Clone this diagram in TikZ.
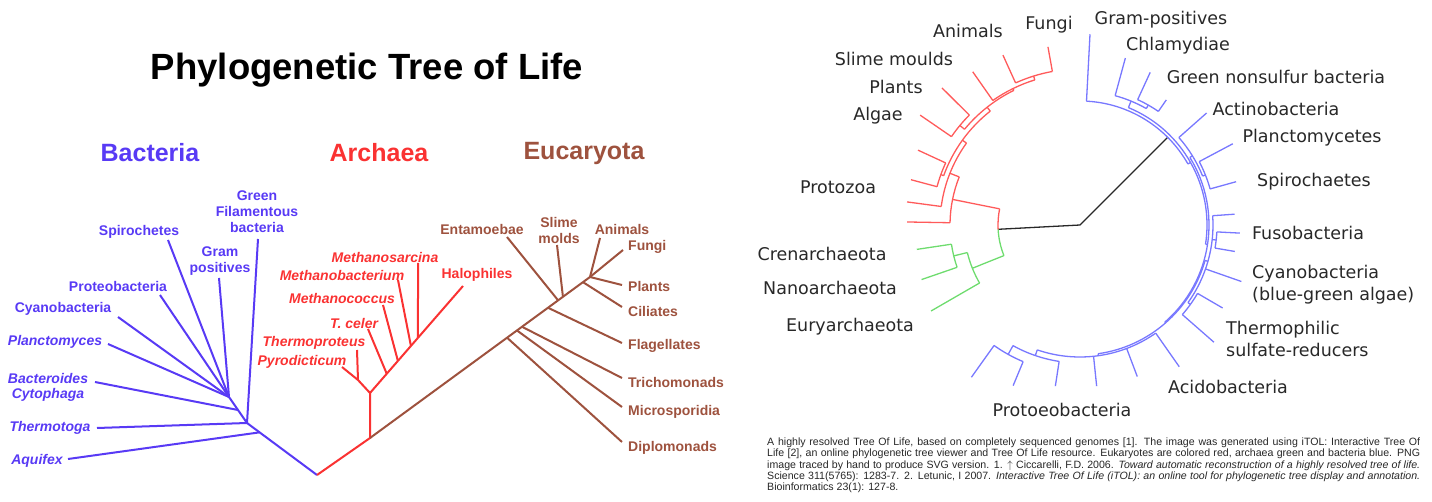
\documentclass[tikz,border=0pt]{standalone}
\usepackage{fontspec}
\setmainfont{Liberation Sans}
\newfontfamily\itolfont{DejaVu Sans}
\usetikzlibrary{calc}

\definecolor{bacblue}{RGB}{88,58,245}
\definecolor{archred}{RGB}{250,50,50}
\definecolor{eukbrown}{RGB}{158,82,62}
\definecolor{itolred}{RGB}{255,90,90}
\definecolor{itolgreen}{RGB}{110,220,110}
\definecolor{itolblue}{RGB}{120,120,255}
\definecolor{itolink}{RGB}{40,40,40}

\tikzset{
  lbl/.style={inner sep=0pt,align=center,font=\fontsize{14}{16}\selectfont\bfseries},
  ilbl/.style={lbl,font=\fontsize{14}{15}\selectfont\bfseries\itshape},
  head/.style={inner sep=0pt,font=\fontsize{25}{25}\selectfont\bfseries},
  branch/.style={line width=2pt},
  twig/.style={line width=1.3pt},
  tlbl/.style={inner sep=0pt,align=left,text=itolink,font=\itolfont\fontsize{17.5}{22}\selectfont},
}

\begin{document}
\begin{tikzpicture}[x=1pt,y=-1pt]
\useasboundingbox (0,0) rectangle (1432,502);

% ---- left: title and domains
\node[inner sep=0pt,font=\fontsize{36.5}{36.5}\selectfont\bfseries] (title) at (367,70) {Phylogenetic Tree of Life};
\node[head,text=bacblue]  (bact) at (150,153) {Bacteria};
\node[head,text=archred]  (arch) at (379,153) {Archaea};
\node[head,text=eukbrown] (euka) at (584,153) {Eucaryota};

% bacteria
\coordinate (root) at (317,475);
\coordinate (bac0) at (247,423);
\coordinate (bac1) at (229,397);
\coordinate (aqj) at ($(root)!0.82!(bac0)$);
\coordinate (bcj) at ($(bac0)!0.5!(bac1)$);
\coordinate (aquifex) at (68,459);
\coordinate (thermotoga) at (97,428);
\coordinate (bacteroides) at (95,382);
\coordinate (planctomyces) at (108,344);
\coordinate (cyanobacteria) at (118,317);
\coordinate (proteobacteria) at (160,295);
\coordinate (spirochetes) at (168,240);
\coordinate (grampos) at (219,278);
\coordinate (greenfil) at (258,239);

\draw[bacblue,branch] (root) -- (bac0) -- (bac1);
\draw[bacblue,branch] (aqj) -- (aquifex);
\draw[bacblue,branch] (bac0) -- (thermotoga);
\draw[bacblue,branch] (bac0) -- (greenfil);
\draw[bacblue,branch] (bcj) -- (bacteroides);
\draw[bacblue,branch] (bac1) -- (planctomyces);
\draw[bacblue,branch] (bac1) -- (cyanobacteria);
\draw[bacblue,branch] (bac1) -- (proteobacteria);
\draw[bacblue,branch] (bac1) -- (spirochetes);
\draw[bacblue,branch] (bac1) -- (grampos);

\node[lbl,text=bacblue]  (l-greenfil) at (257,212) {Green\\Filamentous\\bacteria};
\node[lbl,text=bacblue]  (l-spiro) at (139,232) {Spirochetes};
\node[lbl,text=bacblue]  (l-gram) at (220,261) {Gram\\positives};
\node[lbl,text=bacblue]  (l-proteo) at (118,286) {Proteobacteria};
\node[lbl,text=bacblue]  (l-cyano) at (63,309) {Cyanobacteria};
\node[ilbl,text=bacblue] (l-plancto) at (55,342) {Planctomyces};
\node[ilbl,text=bacblue] (l-bactero) at (48,387) {Bacteroides\\Cytophaga};
\node[ilbl,text=bacblue] (l-thermotoga) at (50,428) {Thermotoga};
\node[ilbl,text=bacblue] (l-aquifex) at (37,461) {Aquifex};

% archaea
\coordinate (arc0) at (370,438);
\coordinate (arc1) at (370,393);
\coordinate (thp) at (358,380);
\coordinate (pyrodicticum) at (342,367);
\coordinate (thermoproteus) at (357,350);
\coordinate (halophiles) at (463,286);
\coordinate (tcj) at ($(arc1)!0.18!(halophiles)$);
\coordinate (mcj) at ($(arc1)!0.30!(halophiles)$);
\coordinate (mbj) at ($(arc1)!0.44!(halophiles)$);
\coordinate (msj) at ($(arc1)!0.516!(halophiles)$);
\coordinate (tceler) at (368,329);
\coordinate (methanococcus) at (383,305);
\coordinate (methanobacterium) at (398,280);
\coordinate (methanosarcina) at (418,263);

\draw[archred,branch] (root) -- (arc0) -- (arc1) -- (halophiles);
\draw[archred,branch] (arc1) -- (thp) -- (pyrodicticum);
\draw[archred,branch] (thp) -- (thermoproteus);
\draw[archred,branch] (tcj) -- (tceler);
\draw[archred,branch] (mcj) -- (methanococcus);
\draw[archred,branch] (mbj) -- (methanobacterium);
\draw[archred,branch] (msj) -- (methanosarcina);

\node[ilbl,text=archred] (l-msarcina) at (385,257) {Methanosarcina};
\node[ilbl,text=archred] (l-mbact) at (342,275) {Methanobacterium};
\node[ilbl,text=archred] (l-mcoccus) at (342,298) {Methanococcus};
\node[ilbl,text=archred] (l-tceler) at (354,323) {T. celer};
\node[ilbl,text=archred] (l-tprot) at (314,343) {Thermoproteus};
\node[ilbl,text=archred] (l-pyro) at (302,362) {Pyrodicticum};
\node[lbl,text=archred]  (l-halo) at (477,275) {Halophiles};

% eucaryota
\coordinate (euktop) at (590,277);
\coordinate (dpj) at ($(arc0)!0.623!(euktop)$);
\coordinate (msj2) at ($(arc0)!0.668!(euktop)$);
\coordinate (trj) at ($(arc0)!0.691!(euktop)$);
\coordinate (flj) at ($(arc0)!0.809!(euktop)$);
\coordinate (enj) at ($(arc0)!0.855!(euktop)$);
\coordinate (slj) at ($(arc0)!0.877!(euktop)$);
\coordinate (cij) at ($(arc0)!0.968!(euktop)$);
\coordinate (diplomonads) at (622,442);
\coordinate (microsporidia) at (622,407);
\coordinate (trichomonads) at (622,378);
\coordinate (flagellates) at (622,343);
\coordinate (entamoebae) at (507,237);
\coordinate (slimemolds) at (557,245);
\coordinate (ciliates) at (622,307);
\coordinate (plants) at (622,285);
\coordinate (animals) at (600,238);
\coordinate (fungi) at (623,250);

\draw[eukbrown,branch] (arc0) -- (euktop);
\draw[eukbrown,branch] (dpj) -- (diplomonads);
\draw[eukbrown,branch] (msj2) -- (microsporidia);
\draw[eukbrown,branch] (trj) -- (trichomonads);
\draw[eukbrown,branch] (flj) -- (flagellates);
\draw[eukbrown,branch] (enj) -- (entamoebae);
\draw[eukbrown,branch] (slj) -- (slimemolds);
\draw[eukbrown,branch] (cij) -- (ciliates);
\draw[eukbrown,branch] (euktop) -- (plants);
\draw[eukbrown,branch] (euktop) -- (animals);
\draw[eukbrown,branch] (euktop) -- (fungi);

\node[lbl,text=eukbrown] (l-entam) at (482,229) {Entamoebae};
\node[lbl,text=eukbrown] (l-slime) at (559,230) {Slime\\molds};
\node[lbl,text=eukbrown] (l-animals) at (622,229) {Animals};
\node[lbl,text=eukbrown,anchor=west] (l-fungi) at (628,247) {Fungi};
\node[lbl,text=eukbrown,anchor=west] (l-plants) at (628,286) {Plants};
\node[lbl,text=eukbrown,anchor=west] (l-cili) at (628,311) {Ciliates};
\node[lbl,text=eukbrown,anchor=west] (l-flag) at (628,346) {Flagellates};
\node[lbl,text=eukbrown,anchor=west] (l-tricho) at (628,382) {Trichomonads};
\node[lbl,text=eukbrown,anchor=west] (l-micro) at (628,412) {Microsporidia};
\node[lbl,text=eukbrown,anchor=west] (l-diplo) at (628,448) {Diplomonads};

% ---- right: circular tree
\coordinate (C) at (1080,225);
\coordinate (ae) at ($(C)+(177:82)$);
\coordinate (bacroot) at ($(C)+(315:124)$);
\draw[itolink,twig] (ae) -- (C) -- (bacroot);

% archaea (green)
\draw[itolgreen,twig] (ae) arc[start angle=177, end angle=158.1, radius=82];
\foreach \na/\ang/\rin/\rout in {i-g1/158.1/82/116, i-eury/150/116/172, i-g2/166.25/116/130,
    i-cren/171.5/130/165, i-nano/161/130/167.6}{
  \coordinate (\na-in) at ($(C)+(\ang:\rin)$);
  \coordinate (\na) at ($(C)+(\ang:\rout)$);
  \draw[itolgreen,twig] (\na-in) -- (\na);
}
\foreach \na/\sa/\ea/\rad in {i-g1/150/166.25/116, i-g2/161/171.5/130}{
  \coordinate (\na-arc) at ($(C)+(\sa:\rad)$);
  \draw[itolgreen,twig] (\na-arc) arc[start angle=\sa, end angle=\ea, radius=\rad];
}

% eukaryotes (red)
\draw[itolred,twig] (ae) arc[start angle=177, end angle=191.35, radius=82];
\foreach \na/\ang/\rin/\rout in {i-e0/191.35/82/130, i-prota/181/130/173, i-e1/201.7/130/140,
    i-protb/187.6/140/174.5, i-e2/215.8/140/145, i-e3/199.9/145/148, i-protc/195/148/175,
    i-protd/204.8/148/178.5, i-e5/231.75/145/150, i-eap/219.65/150/156, i-algae/214.5/156/194,
    i-plants/224.8/156/194.5, i-e6/243.85/150/152, i-slime/235/152/187, i-e7/252.7/152/156,
    i-animals/245.6/156/186.6, i-fungi/259.8/156/181}{
  \coordinate (\na-in) at ($(C)+(\ang:\rin)$);
  \coordinate (\na) at ($(C)+(\ang:\rout)$);
  \draw[itolred,twig] (\na-in) -- (\na);
}
\foreach \na/\sa/\ea/\rad in {i-e0/181/201.7/130, i-e1/187.6/215.8/140, i-e2/199.9/231.75/145,
    i-e3/195/204.8/148, i-e5/219.65/243.85/150, i-eap/214.5/224.8/156, i-e6/235/252.7/152,
    i-e7/245.6/259.8/156}{
  \coordinate (\na-arc) at ($(C)+(\sa:\rad)$);
  \draw[itolred,twig] (\na-arc) arc[start angle=\sa, end angle=\ea, radius=\rad];
}

% bacteria (blue)
\foreach \na/\ang/\rin/\rout in {i-gpos/273/124/191, i-a/330.5/124/127, i-p/292.4/127/134,
    i-chlam/285.2/134/173, i-p2/299.65/134/138, i-gns/294.7/138/168, i-short/304.6/138/152,
    i-q/368.7/127/129, i-q1/328.4/129/132, i-actino/318.5/132/169, i-q1b/338.25/132/135,
    i-plancto/332/135/173, i-spiro/344.5/135/162, i-q2/408.9/129/130, i-q3/375.85/130/133,
    i-b8/356/133/155, i-f/366.3/133/137, i-fuso1/362.9/137/160, i-fuso2/369.7/137/157,
    i-cyano/379.3/133/171, i-t/395.7/133/136, i-thermo1/390.2/136/165, i-thermo2/401.2/136/178,
    i-q4/442/130/132, i-acido1/415/132/173, i-acido2/429.3/132/162, i-b16/444.1/132/162,
    i-bl/468.9/132/138, i-b17/458.7/138/163, i-bl2/479.05/138/148, i-b18/472.6/148/174,
    i-b19/485.5/148/187}{
  \coordinate (\na-in) at ($(C)+(\ang:\rin)$);
  \coordinate (\na) at ($(C)+(\ang:\rout)$);
  \draw[itolblue,twig] (\na-in) -- (\na);
}
\foreach \na/\sa/\ea/\rad in {i-r/273/330.5/124, i-a/292.4/368.7/127, i-p/285.2/299.65/134,
    i-p2/294.7/304.6/138, i-q/328.4/408.9/129, i-q1/318.5/338.25/132, i-q1b/332/344.5/135,
    i-q2/375.85/442/130, i-q3/356/395.7/133, i-f/362.9/369.7/137, i-t/390.2/401.2/136,
    i-q4/415/468.9/132, i-bl/458.7/479.05/138, i-bl2/472.6/485.5/148}{
  \coordinate (\na-arc) at ($(C)+(\sa:\rad)$);
  \draw[itolblue,twig] (\na-arc) arc[start angle=\sa, end angle=\ea, radius=\rad];
}

% right labels
\node[tlbl] (t-animals) at (968,31) {Animals};
\node[tlbl] (t-fungi) at (1049,25) {Fungi};
\node[tlbl] (t-slime) at (894,59) {Slime moulds};
\node[tlbl] (t-plants) at (896,87) {Plants};
\node[tlbl] (t-algae) at (878,116) {Algae};
\node[tlbl] (t-protozoa) at (838,187) {Protozoa};
\node[tlbl] (t-cren) at (822,254) {Crenarchaeota};
\node[tlbl] (t-nano) at (830,288) {Nanoarchaeota};
\node[tlbl] (t-eury) at (850,327) {Euryarchaeota};
\node[tlbl] (t-gpos) at (1161,20) {Gram-positives};
\node[tlbl] (t-chlam) at (1178,46) {Chlamydiae};
\node[tlbl] (t-gns) at (1276,77) {Green nonsulfur bacteria};
\node[tlbl] (t-actino) at (1276,109) {Actinobacteria};
\node[tlbl] (t-plancto) at (1312,138) {Planctomycetes};
\node[tlbl] (t-spiro) at (1314,182) {Spirochaetes};
\node[tlbl] (t-fuso) at (1308,233) {Fusobacteria};
\node[tlbl,anchor=west] (t-cyano) at (1252,284.5) {Cyanobacteria\\(blue-green algae)};
\node[tlbl,anchor=west] (t-thermo) at (1226,338.5) {Thermophilic\\sulfate-reducers};
\node[tlbl] (t-acido) at (1228,387) {Acidobacteria};
\node[tlbl] (t-proteo) at (1062,410) {Protoeobacteria};

% caption
\node[anchor=north west,inner sep=0pt,align=left,text=black!85,
  font=\fontsize{10.6}{11.1}\selectfont] (caption) at (767,438) {%
\makebox[653pt][s]{A highly resolved Tree Of Life, based on completely sequenced genomes [1]. The image was generated using iTOL: Interactive Tree Of}\\
\makebox[653pt][s]{Life [2], an online phylogenetic tree viewer and Tree Of Life resource. Eukaryotes are colored red, archaea green and bacteria blue. PNG}\\
\makebox[653pt][s]{image traced by hand to produce SVG version. 1. $\uparrow$ Ciccarelli, F.D. 2006. \textit{Toward automatic reconstruction of a highly resolved tree of life.}}\\
\makebox[653pt][s]{Science 311(5765): 1283-7. 2. Letunic, I 2007. \textit{Interactive Tree Of Life (iTOL): an online tool for phylogenetic tree display and annotation.}}\\
Bioinformatics 23(1): 127-8.};
\end{tikzpicture}
\end{document}
